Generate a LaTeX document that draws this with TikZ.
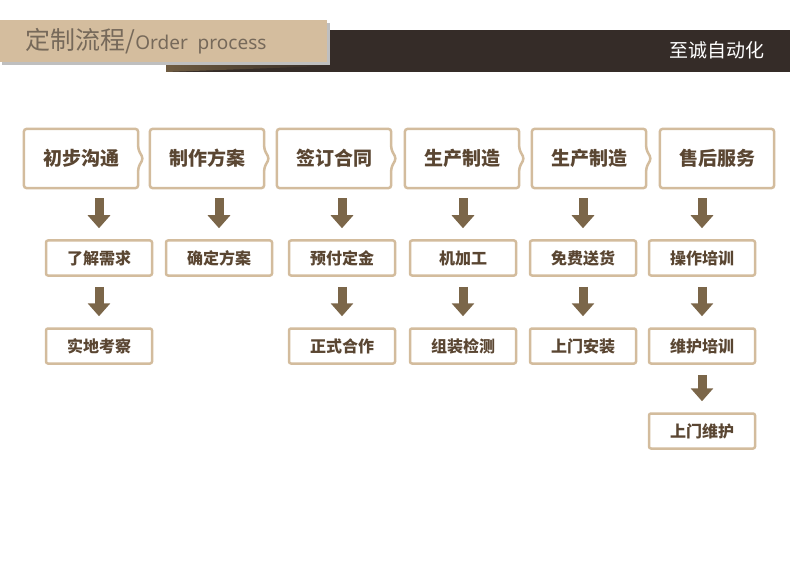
\documentclass[tikz,border=0pt]{standalone}
\usepackage{fontspec}
\setmainfont{Noto Sans CJK SC}
\newfontfamily\latinsans{Noto Sans}
\usetikzlibrary{arrows.meta,calc}
\definecolor{tanline}{HTML}{D3BC9D}
\definecolor{tanband}{HTML}{D4BD9E}
\definecolor{darkband}{HTML}{352C28}
\definecolor{inkbrown}{HTML}{5A4632}
\definecolor{arrowbrown}{HTML}{7B6649}
\definecolor{headgray}{HTML}{76695A}
\begin{document}
\begin{tikzpicture}[x=1pt,y=-1pt,
        topbox/.style={minimum width=114pt, minimum height=59pt, inner sep=0pt, font=\fontsize{19}{19}\selectfont\bfseries, text=inkbrown},
        subbox/.style={draw=tanline, line width=2.5pt, rounded corners=2pt, minimum width=106pt, minimum height=35pt, inner sep=0pt, font=\fontsize{16}{16}\selectfont\bfseries, text=inkbrown},
        boxline/.style={draw=tanline, line width=2.5pt, rounded corners=3pt},
        flowarrow/.style={draw=arrowbrown, line width=9pt, -{Triangle[width=22pt,length=13pt]}, shorten <=10pt, shorten >=11pt},
        ]
        \useasboundingbox (0,0) rectangle (790,564);

        % Header bands
        \fill[darkband] (166,30) rectangle (790,72);
        \shade[left color=arrowbrown!90!black, right color=darkband] (166,62) -- (327,62) -- (327,66) -- (166,72) -- cycle;
        \fill[black!25] (2,23) rectangle (330,65);
        \fill[tanband] (0,20) rectangle (327,62);
        \node[anchor=west, text=headgray, font=\fontsize{25}{25}\selectfont] (title) at (22,41) {定制流程/\latinsans\fontsize{19}{19}\selectfont Order\ \ process};
        \node[anchor=east, text=white, font=\fontsize{19}{19}\selectfont] (brand) at (768,50) {至诚自动化};

        % Main steps
        \node[topbox] (s1) at (81,158.5) {初步沟通};
        \node[topbox] (s2) at (207,158.5) {制作方案};
        \node[topbox] (s3) at (334,158.5) {签订合同};
        \node[topbox] (s4) at (462,158.5) {生产制造};
        \node[topbox] (s5) at (589,158.5) {生产制造};
        \node[topbox] (s6) at (717,158.5) {售后服务};
        \foreach \n in {s1,s2,s3,s4,s5}
            \draw[boxline] (\n.north west) -- (\n.north east) -- ($(\n.east)+(0,-9)$) -- ($(\n.east)+(5,0)$) -- ($(\n.east)+(0,9)$) -- (\n.south east) -- (\n.south west) -- cycle;
        \draw[boxline] (s6.north west) rectangle (s6.south east);

        % Sub steps
        \node[subbox] (a1) at (99,258) {了解需求};
        \node[subbox] (a2) at (219,258) {确定方案};
        \node[subbox] (a3) at (342,258) {预付定金};
        \node[subbox] (a4) at (463,258) {机加工};
        \node[subbox] (a5) at (583,258) {免费送货};
        \node[subbox] (a6) at (702,258) {操作培训};
        \node[subbox] (b1) at (99,346) {实地考察};
        \node[subbox] (b3) at (342,346) {正式合作};
        \node[subbox] (b4) at (463,346) {组装检测};
        \node[subbox] (b5) at (583,346) {上门安装};
        \node[subbox] (b6) at (702,346) {维护培训};
        \node[subbox] (c6) at (702,431) {上门维护};

        % Arrows
        \foreach \i in {1,...,6}
            \draw[flowarrow] (a\i.north |- s\i.south) -- (a\i.north);
        \foreach \i in {1,3,4,5,6}
            \draw[flowarrow] (a\i.south) -- (b\i.north);
        \draw[flowarrow] (b6.south) -- (c6.north);
\end{tikzpicture}
\end{document}
